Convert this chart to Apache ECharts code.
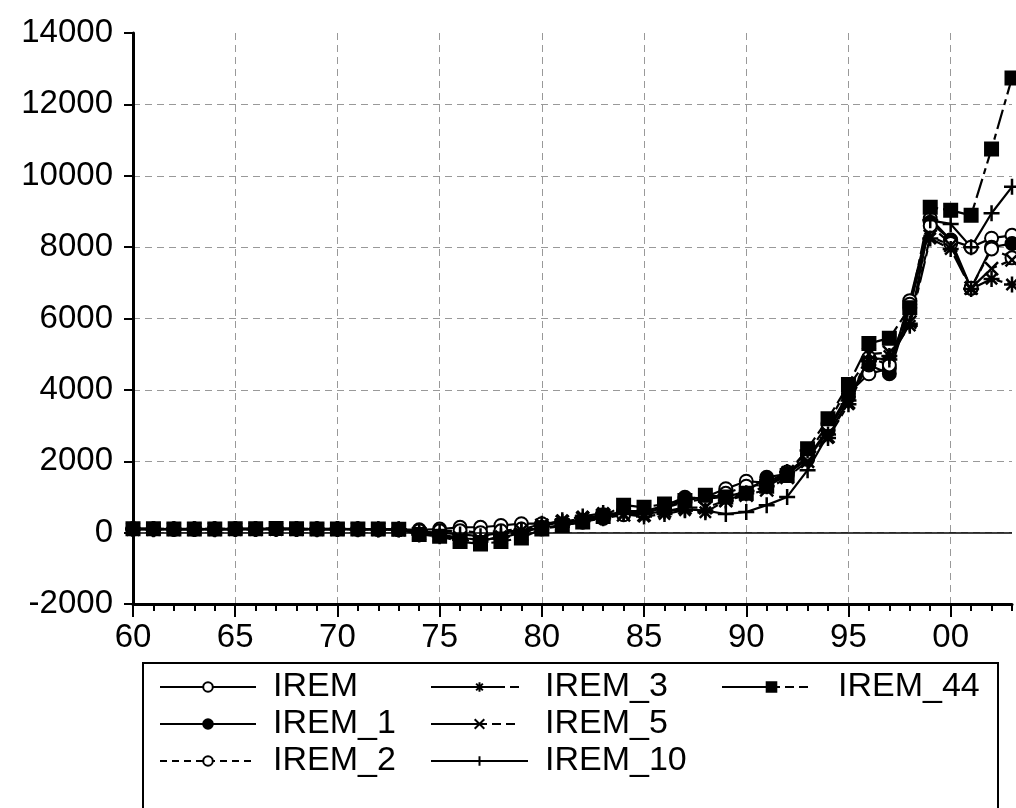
<!DOCTYPE html>
<html>
<head>
<meta charset="utf-8">
<script src="https://cdn.jsdelivr.net/npm/echarts@6/dist/echarts.min.js"></script>
<style>
  html, body { margin: 0; padding: 0; background: #fff; }
  #chart { width: 1016px; height: 808px; }
</style>
</head>
<body>
<div id="chart"></div>
<script>
// Years on the category axis
const years = [1960,1961,1962,1963,1964,1965,1966,1967,1968,1969,
               1970,1971,1972,1973,1974,1975,1976,1977,1978,1979,
               1980,1981,1982,1983,1984,1985,1986,1987,1988,1989,
               1990,1991,1992,1993,1994,1995,1996,1997,1998,1999,
               2000,2001,2002,2003];

const yTicks = { min: -2000, max: 14000, step: 2000 };

const irem = [110,105,100,100,105,100,105,110,105,100,105,100,95,90,
              80,100,150,150,200,250,250,250,350,500,550,550,700,900,1000,1230,
              1440,1400,1700,2100,2900,3900,4450,4600,6500,8800,8200,8000,8250,8330];
const irem1 = [100,100,95,100,100,105,100,105,100,100,100,95,95,90,
               0,-50,-150,-200,-150,0,150,200,300,450,600,600,750,990,950,1000,
               1150,1550,1650,2050,2850,3800,4700,4450,6300,8700,8200,6850,8000,8100];
const irem2 = [105,100,100,95,100,100,100,105,100,100,100,100,95,90,
               50,50,50,0,50,100,100,200,300,400,500,550,700,850,950,1100,
               1300,1350,1600,2200,3050,4100,4900,4700,6400,8600,8100,6850,7950,7700];
const irem3 = [100,95,100,100,95,100,100,100,100,95,100,95,90,90,
               -50,-100,-200,-250,-100,50,200,350,450,550,520,450,520,630,570,900,
               1100,1300,1700,2300,2650,3600,4800,4950,5800,8240,7950,6830,7110,6950];
const irem5 = [100,100,100,100,100,100,100,100,100,100,100,100,95,90,
               -30,-80,-150,-200,-150,-50,200,300,400,500,500,500,600,700,700,900,
               1050,1200,1550,2000,2700,3650,5000,5050,5900,8300,8050,6850,7400,7640];
const irem10 = [100,100,100,100,100,100,100,100,100,100,100,100,95,95,
                30,0,-50,-100,0,80,250,300,350,400,550,520,600,650,620,520,
                580,770,1000,1750,2750,3700,4900,4850,5850,8750,8650,8000,8950,9690];
const irem44 = [110,110,105,105,105,110,110,115,110,105,105,100,100,95,
                -50,-100,-250,-320,-250,-150,100,200,300,450,770,710,800,900,1050,1000,
                1100,1300,1600,2350,3190,4150,5300,5450,6300,9120,9030,8890,10750,12740];

// Marker outlines drawn as stroked paths
const ASTERISK = 'path://M0,5L10,5M5,0L5,10M1.5,1.5L8.5,8.5M8.5,1.5L1.5,8.5';
const CROSS = 'path://M1,1L9,9M9,1L1,9';
const PLUS = 'path://M0,5L10,5M5,0L5,10';

const FONT = 'Liberation Sans, Arial, sans-serif';

function lineSeries(name, data, symbol, size, dash, fill) {
  const strokeOnly = symbol.indexOf('path://') === 0;
  return {
    name: name,
    type: 'line',
    data: data,
    symbol: symbol,
    symbolSize: size,
    showAllSymbol: true,
    animation: false,
    lineStyle: { color: '#000', width: 2.2, type: dash },
    itemStyle: {
      color: strokeOnly ? '#000' : fill,
      borderColor: '#000',
      borderWidth: strokeOnly ? 2.5 : 2
    },
    emphasis: { disabled: true }
  };
}

const series = [
  lineSeries('IREM', irem, 'circle', 13, 'solid', '#fff'),
  lineSeries('IREM_1', irem1, 'circle', 13, 'solid', '#000'),
  lineSeries('IREM_2', irem2, 'circle', 13, [7, 5], '#fff'),
  lineSeries('IREM_3', irem3, ASTERISK, 16, [22, 5, 6, 5], '#000'),
  lineSeries('IREM_5', irem5, CROSS, 13, [18, 5, 6, 5, 6, 5], '#000'),
  lineSeries('IREM_10', irem10, PLUS, 16, 'solid', '#000'),
  lineSeries('IREM_44', irem44, 'rect', 13, [20, 5, 6, 5], '#000')
];

// Solid reference line at zero
series[0].markLine = {
  silent: true,
  symbol: 'none',
  animation: false,
  label: { show: false },
  lineStyle: { color: '#000', type: 'solid', width: 1.5 },
  data: [{ yAxis: 0 }]
};

const legendText = { fontFamily: FONT, fontSize: 34, color: '#000', lineHeight: 34, padding: [0, 0, 0, 12] };

// Legend keys: solid lead-in through the marker, then the dash tail
const legendKeys = {
  IREM: { name: 'IREM' },
  IREM_1: { name: 'IREM_1' },
  IREM_2: { name: 'IREM_2', lineStyle: { type: [7, 5] } },
  IREM_3: { name: 'IREM_3', lineStyle: { type: [74, 5, 9, 20] } },
  IREM_5: { name: 'IREM_5', lineStyle: { type: [56, 5, 9, 5, 9, 20] } },
  IREM_10: { name: 'IREM_10' },
  IREM_44: { name: 'IREM_44', lineStyle: { type: [58, 5, 9, 5, 9, 20] } }
};

function legendColumn(names, left, width) {
  return {
    data: names.map(n => legendKeys[n]),
    orient: 'vertical',
    left: left,
    top: 670,
    itemWidth: width,
    itemHeight: 12,
    itemGap: 3,
    padding: 0,
    selectedMode: false,
    textStyle: legendText
  };
}

const chart = echarts.init(document.getElementById('chart'), null, { renderer: 'canvas' });
chart.setOption({
  backgroundColor: '#fff',
  animation: false,
  grid: { left: 133, right: 4, top: 33, bottom: 204, containLabel: false },
  xAxis: [
    {
      type: 'category',
      data: years,
      boundaryGap: false,
      axisLine: { onZero: false, lineStyle: { color: '#000', width: 3 } },
      axisTick: { interval: 0, length: 7, lineStyle: { color: '#000', width: 2 } },
      axisLabel: {
        interval: 4,
        margin: 17,
        fontFamily: FONT,
        fontSize: 33,
        color: '#000',
        formatter: v => String(v).slice(2)
      },
      splitLine: { show: true, interval: 4, lineStyle: { color: '#999', type: [7, 5], width: 1 } }
    },
    {
      type: 'category',
      data: years,
      boundaryGap: false,
      position: 'bottom',
      axisLine: { show: false, onZero: false },
      axisTick: { interval: 4, length: 13, lineStyle: { color: '#000', width: 2 } },
      axisLabel: { show: false },
      splitLine: { show: false }
    }
  ],
  yAxis: {
    type: 'value',
    min: yTicks.min,
    max: yTicks.max,
    interval: yTicks.step,
    axisLine: { show: true, onZero: false, lineStyle: { color: '#000', width: 3 } },
    axisTick: { show: true, length: 9, lineStyle: { color: '#000', width: 2 } },
    axisLabel: {
      margin: 20,
      fontFamily: FONT,
      fontSize: 33,
      color: '#000',
      formatter: v => String(v)
    },
    splitLine: { show: true, showMaxLine: false, showMinLine: false, lineStyle: { color: '#999', type: [7, 5], width: 1 } }
  },
  legend: [
    legendColumn(['IREM', 'IREM_1', 'IREM_2'], 159, 96),
    legendColumn(['IREM_3', 'IREM_5', 'IREM_10'], 430, 97),
    legendColumn(['IREM_44'], 721, 99)
  ],
  graphic: [{
    type: 'rect',
    silent: true,
    shape: { x: 143, y: 663, width: 855, height: 160 },
    style: { fill: 'none', stroke: '#000', lineWidth: 2 },
    z: -1
  }],
  series: series
});
</script>
</body>
</html>
